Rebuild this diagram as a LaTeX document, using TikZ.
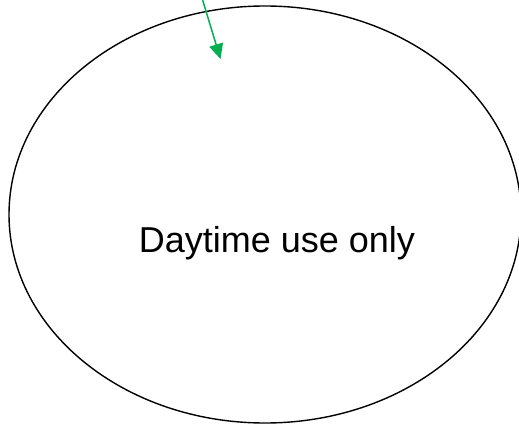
\documentclass[tikz,border=0pt]{standalone}
\usepackage{fontspec}
\setmainfont{Liberation Sans}
\usetikzlibrary{shapes.geometric,arrows.meta}
\definecolor{arrowgreen}{RGB}{0,176,80}
\begin{document}
\begin{tikzpicture}[x=1pt,y=1pt,
  oval/.style={ellipse,draw=black,line width=1.4pt,inner sep=0pt,minimum width=512pt,minimum height=417pt},
  label/.style={font=\fontsize{36}{43}\selectfont,inner sep=0pt},
  greenarrow/.style={draw=arrowgreen,line width=1.5pt,-{Triangle[length=15pt,width=14pt]}}]
\useasboundingbox (0,0) rectangle (519,-425);
\node[oval] (o) at (265,-214.5) {};
\node[label] (t) at (277,-243) {Daytime use only};
\coordinate (s) at (202,2);
\coordinate (e) at (220.5,-59);
\draw[greenarrow] (s) -- (e);
\end{tikzpicture}
\end{document}
